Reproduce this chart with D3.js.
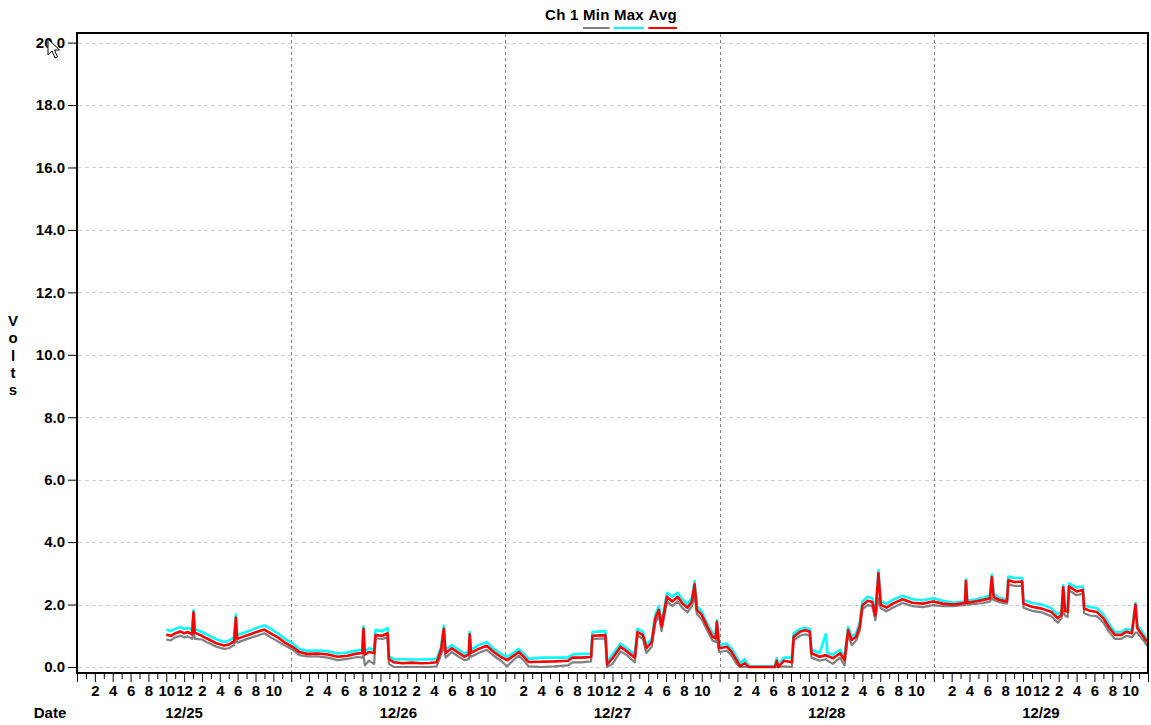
<!DOCTYPE html>
<html>
<head>
<meta charset="utf-8">
<script src="https://cdn.jsdelivr.net/npm/d3@7"></script>
<style>
  body { margin: 0; background: #fff; }
  svg text { font-family: "Liberation Sans", Arial, sans-serif; font-weight: bold; font-size: 15px; fill: #000; white-space: pre; }
</style>
</head>
<body>
<svg id="chart" width="1151" height="725"></svg>
<script>
// hours since 12/25 00:00
const hours = [
  10.0, 10.5, 11.0, 11.6, 12.0, 12.4, 12.9, 13.05, 13.2, 14.0,
  14.5, 15.0, 15.7, 16.5, 17.0, 17.6, 17.8, 17.95, 18.7, 19.5,
  20.2, 21.0, 21.7, 22.5, 23.2, 24.2, 24.9, 25.8, 27.0, 28.1,
  29.2, 30.3, 31.4, 31.95, 32.1, 32.25, 32.7, 33.3, 33.45, 34.2,
  34.8, 34.95, 35.5, 36.5, 37.5, 38.5, 39.5, 40.3, 40.8, 41.1,
  41.3, 42.0, 42.6, 43.4, 43.9, 44.0, 44.15, 45.0, 45.9, 46.7,
  47.5, 48.2, 49.0, 49.5, 50.1, 50.6, 52.0, 53.5, 55.0, 55.5,
  56.5, 57.6, 57.75, 59.2, 59.4, 60.0, 60.9, 61.6, 62.5, 62.8,
  63.4, 63.8, 64.4, 64.8, 65.2, 65.5, 66.1, 66.7, 67.3, 67.8,
  68.4, 68.9, 69.2, 69.45, 70.0, 70.6, 71.2, 71.55, 71.7, 71.95,
  72.8, 73.3, 73.9, 74.3, 74.8, 75.3, 78.2, 78.4, 78.6, 79.2,
  80.1, 80.3, 81.0, 81.6, 82.1, 82.3, 83.2, 83.9, 84.1, 84.7,
  85.5, 86.0, 86.4, 86.8, 87.3, 87.7, 88.0, 88.6, 89.1, 89.45,
  89.8, 90.05, 90.7, 91.4, 92.5, 93.6, 94.8, 95.9, 97.0, 98.2,
  99.0, 99.5, 99.6, 99.75, 100.6, 101.6, 102.3, 102.5, 102.7, 103.3,
  104.2, 104.35, 105.0, 105.9, 106.05, 107.0, 108.1, 109.2, 109.9, 110.3,
  110.5, 110.7, 111.0, 111.15, 112.0, 112.7, 112.85, 113.5, 114.3, 115.0,
  115.7, 116.3, 117.0, 117.6, 118.2, 118.6, 118.8, 119.5, 119.9
];
const avgV = [
  1.03, 1.00, 1.08, 1.14, 1.08, 1.12, 1.05, 1.75, 1.10, 1.00,
  0.92, 0.85, 0.75, 0.69, 0.72, 0.82, 1.58, 0.90, 0.98, 1.06,
  1.13, 1.20, 1.08, 0.95, 0.80, 0.64, 0.48, 0.42, 0.43, 0.40,
  0.33, 0.36, 0.43, 0.45, 1.22, 0.40, 0.48, 0.45, 1.02, 1.00,
  1.08, 0.25, 0.15, 0.12, 0.14, 0.12, 0.13, 0.15, 0.56, 1.22,
  0.45, 0.60, 0.48, 0.33, 0.40, 1.05, 0.45, 0.58, 0.68, 0.48,
  0.32, 0.22, 0.37, 0.48, 0.32, 0.16, 0.17, 0.18, 0.20, 0.30,
  0.30, 0.32, 1.00, 1.02, 0.08, 0.28, 0.65, 0.50, 0.30, 1.12,
  1.03, 0.60, 0.80, 1.56, 1.83, 1.30, 2.25, 2.10, 2.25, 2.05,
  1.90, 2.10, 2.65, 1.83, 1.67, 1.30, 0.97, 0.92, 1.45, 0.60,
  0.65, 0.50, 0.22, 0.03, 0.12, 0.00, 0.00, 0.20, 0.00, 0.20,
  0.15, 0.97, 1.13, 1.18, 1.13, 0.44, 0.33, 0.38, 0.35, 0.28,
  0.44, 0.22, 1.18, 0.87, 0.97, 1.30, 1.98, 2.12, 2.08, 1.65,
  3.00, 2.00, 1.90, 2.03, 2.17, 2.06, 2.03, 2.10, 2.03, 2.00,
  2.03, 2.05, 2.75, 2.06, 2.10, 2.15, 2.20, 2.88, 2.25, 2.15,
  2.10, 2.78, 2.72, 2.74, 2.03, 1.93, 1.87, 1.76, 1.56, 1.67,
  2.55, 1.80, 1.77, 2.58, 2.42, 2.47, 1.87, 1.80, 1.76, 1.56,
  1.24, 1.03, 1.03, 1.13, 1.08, 2.00, 1.24, 0.97, 0.80
];
const maxV = [
  1.20, 1.15, 1.22, 1.28, 1.22, 1.25, 1.20, 1.82, 1.22, 1.12,
  1.05, 0.97, 0.88, 0.80, 0.84, 0.95, 1.68, 1.02, 1.10, 1.18,
  1.26, 1.33, 1.22, 1.08, 0.92, 0.75, 0.58, 0.52, 0.53, 0.50,
  0.43, 0.46, 0.53, 0.55, 1.30, 0.50, 0.60, 0.55, 1.18, 1.15,
  1.25, 0.35, 0.25, 0.25, 0.24, 0.24, 0.25, 0.25, 0.66, 1.32,
  0.55, 0.70, 0.58, 0.43, 0.50, 1.12, 0.56, 0.70, 0.80, 0.58,
  0.42, 0.32, 0.47, 0.58, 0.42, 0.26, 0.30, 0.30, 0.30, 0.40,
  0.42, 0.42, 1.12, 1.15, 0.18, 0.40, 0.75, 0.60, 0.40, 1.22,
  1.13, 0.70, 0.90, 1.68, 1.95, 1.42, 2.38, 2.25, 2.38, 2.18,
  2.02, 2.22, 2.75, 1.95, 1.78, 1.40, 1.08, 1.02, 1.50, 0.70,
  0.75, 0.60, 0.32, 0.12, 0.25, 0.02, 0.02, 0.28, 0.05, 0.30,
  0.30, 1.08, 1.22, 1.25, 1.22, 0.55, 0.45, 1.05, 0.45, 0.40,
  0.55, 0.32, 1.28, 0.98, 1.08, 1.42, 2.10, 2.25, 2.20, 1.75,
  3.10, 2.12, 2.02, 2.15, 2.28, 2.17, 2.14, 2.20, 2.12, 2.06,
  2.08, 2.10, 2.80, 2.12, 2.16, 2.22, 2.30, 2.95, 2.35, 2.22,
  2.16, 2.90, 2.85, 2.85, 2.15, 2.05, 2.00, 1.88, 1.68, 1.78,
  2.62, 1.90, 1.88, 2.68, 2.55, 2.58, 1.98, 1.92, 1.88, 1.68,
  1.35, 1.12, 1.12, 1.22, 1.18, 2.05, 1.35, 1.06, 0.88
];
const minV = [
  0.88, 0.85, 0.95, 1.00, 0.95, 0.98, 0.90, 1.20, 0.90, 0.88,
  0.80, 0.74, 0.64, 0.58, 0.60, 0.70, 0.95, 0.78, 0.86, 0.94,
  1.00, 1.08, 0.95, 0.82, 0.70, 0.55, 0.38, 0.34, 0.34, 0.30,
  0.22, 0.26, 0.32, 0.30, 0.40, 0.05, 0.20, 0.10, 0.92, 0.90,
  0.95, 0.10, 0.00, 0.00, 0.00, 0.00, 0.00, 0.02, 0.40, 0.70,
  0.30, 0.48, 0.36, 0.22, 0.25, 0.40, 0.33, 0.45, 0.55, 0.36,
  0.20, 0.02, 0.25, 0.36, 0.20, 0.02, 0.00, 0.02, 0.05, 0.15,
  0.15, 0.18, 0.90, 0.92, 0.00, 0.10, 0.50, 0.38, 0.15, 1.00,
  0.90, 0.45, 0.65, 1.40, 1.65, 1.15, 2.10, 1.95, 2.10, 1.90,
  1.75, 1.95, 2.30, 1.70, 1.52, 1.18, 0.85, 0.80, 0.90, 0.48,
  0.52, 0.38, 0.10, 0.00, 0.00, 0.00, 0.00, 0.00, 0.00, 0.02,
  0.00, 0.85, 1.00, 1.05, 1.00, 0.30, 0.20, 0.25, 0.20, 0.10,
  0.30, 0.05, 1.05, 0.70, 0.85, 1.15, 1.85, 1.98, 1.95, 1.50,
  2.20, 1.88, 1.78, 1.90, 2.05, 1.95, 1.92, 1.98, 1.95, 1.95,
  1.97, 1.98, 2.10, 2.00, 2.02, 2.05, 2.10, 2.20, 2.15, 2.08,
  2.03, 2.65, 2.60, 2.60, 1.90, 1.80, 1.75, 1.62, 1.42, 1.55,
  1.80, 1.65, 1.60, 2.45, 2.30, 2.35, 1.72, 1.65, 1.62, 1.42,
  1.10, 0.90, 0.90, 1.00, 0.95, 1.10, 1.10, 0.85, 0.68
];
const days = ["12/25", "12/26", "12/27", "12/28", "12/29"];
const yTicks = [0, 2, 4, 6, 8, 10, 12, 14, 16, 18, 20];

const svg = d3.select("#chart");
const pL = 77, pR = 1148, pT = 33, pB = 673;

const start = new Date(2000, 11, 25);
const end = d3.timeDay.offset(start, 5);
const toDate = h => new Date(start.getTime() + h * 3600e3);

const x = d3.scaleTime().domain([start, end]).range([pL, pR]);
const y = d3.scaleLinear().domain([0, 20]).range([667, 42.6]);

// horizontal grid
svg.append("g").selectAll("line")
  .data(yTicks).enter().append("line")
  .attr("x1", pL + 1).attr("x2", pR - 1)
  .attr("y1", d => Math.round(y(d)) + 0.5).attr("y2", d => Math.round(y(d)) + 0.5)
  .attr("stroke", "#d0d0d0").attr("stroke-dasharray", "4,3");

// midnight lines
svg.append("g").selectAll("line")
  .data(d3.timeDay.range(d3.timeDay.offset(start, 1), end)).enter().append("line")
  .attr("x1", d => Math.round(x(d)) + 0.5).attr("x2", d => Math.round(x(d)) + 0.5)
  .attr("y1", pT + 1).attr("y2", pB - 1)
  .attr("stroke", "#808080").attr("stroke-dasharray", "3,3");

const data = hours.map((h, i) => ({ t: toDate(h), avg: avgV[i], max: maxV[i], min: minV[i] }));

svg.append("clipPath").attr("id", "clip")
  .append("rect").attr("x", pL).attr("y", pT).attr("width", pR - pL).attr("height", pB - pT);

const plot = svg.append("g").attr("clip-path", "url(#clip)");
const series = [
  { key: "min", color: "#808080", w: 2.2 },
  { key: "max", color: "#00ffff", w: 2.6 },
  { key: "avg", color: "#ff0000", w: 2.6 }
];
series.forEach(s => {
  plot.append("path")
    .datum(data)
    .attr("fill", "none")
    .attr("stroke", s.color)
    .attr("stroke-width", s.w)
    .attr("stroke-linejoin", "round")
    .attr("d", d3.line().x(d => x(d.t)).y(d => y(d[s.key])));
});

// frame
svg.append("rect")
  .attr("x", pL).attr("y", pT).attr("width", pR - pL).attr("height", pB - pT)
  .attr("fill", "none").attr("stroke", "#000").attr("stroke-width", 2);

// y axis
const yAxis = svg.append("g")
  .attr("transform", "translate(" + (pL - 1) + ",0)")
  .call(d3.axisLeft(y).tickValues(yTicks).tickFormat(d3.format(".1f")).tickSize(8).tickPadding(3));
yAxis.select(".domain").remove();
yAxis.selectAll("line").attr("stroke", "#000");
yAxis.selectAll("text").attr("font-size", null).attr("font-family", null);

// x axis
const xAxis = svg.append("g")
  .attr("transform", "translate(0," + (pB + 1) + ")")
  .call(d3.axisBottom(x)
    .ticks(d3.timeHour.every(1))
    .tickFormat(d => {
      const h = d.getHours();
      if (h === 0 || h % 2) return "";
      return String(h > 12 ? h - 12 : h);
    })
    .tickSize(8).tickPadding(3));
xAxis.select(".domain").remove();
xAxis.selectAll(".tick line")
  .attr("stroke", "#000")
  .attr("y2", d => d.getHours() % 2 ? 5 : 8);
xAxis.selectAll(".tick text")
  .attr("y", 11).attr("dy", "0.71em")
  .attr("font-size", null).attr("font-family", null);

// date labels
svg.append("g").selectAll("text")
  .data(days).enter().append("text")
  .attr("x", (d, i) => x(d3.timeHour.offset(start, i * 24 + 12)))
  .attr("y", 718)
  .attr("text-anchor", "middle")
  .text(d => d);

svg.append("text").attr("x", 50).attr("y", 718).attr("text-anchor", "middle").text("Date");

// vertical y label
svg.append("g").selectAll("text")
  .data("Volts".split("")).enter().append("text")
  .attr("x", 13).attr("y", (d, i) => 326 + i * 17.3)
  .attr("text-anchor", "middle")
  .text(d => d);

// title with legend underlines
const title = svg.append("g");
const parts = [
  { s: "Ch 1 " }, { s: "Min", c: "#808080" }, { s: " " },
  { s: "Max", c: "#00ffff" }, { s: " " }, { s: "Avg", c: "#ff0000" }
];
let cx = 0;
parts.forEach(p => {
  const t = title.append("text").attr("x", cx).attr("y", 20).attr("letter-spacing", "0.25px").text(p.s);
  const w = t.node().getComputedTextLength();
  if (p.c) {
    title.append("line").attr("x1", cx).attr("x2", cx + w)
      .attr("y1", 28).attr("y2", 28).attr("stroke", p.c).attr("stroke-width", 2);
  }
  cx += w;
});
title.attr("transform", "translate(" + (611 - cx / 2) + ",0)");

// mouse pointer from the screenshot
svg.append("path")
  .attr("transform", "translate(48,39)")
  .attr("d", "M0,0 L0,16 L4,12 L7,19 L9.5,18 L6.5,11 L11.5,11 Z")
  .attr("fill", "#fff").attr("stroke", "#000").attr("stroke-width", 1);
</script>
</body>
</html>
